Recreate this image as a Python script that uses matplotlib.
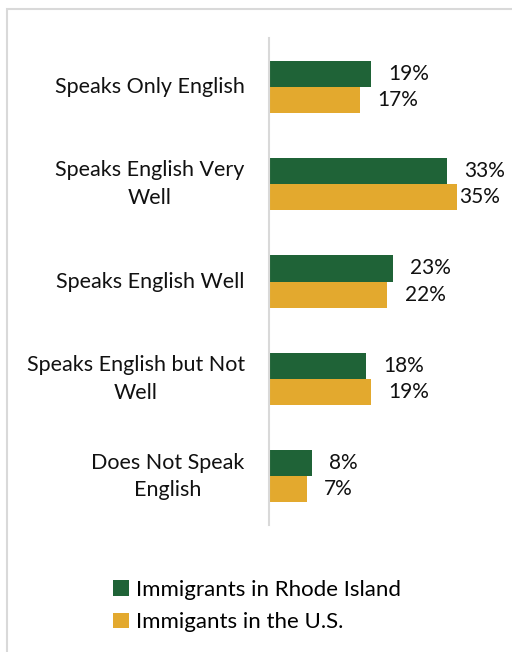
import matplotlib
matplotlib.use('Agg')
import matplotlib.pyplot as plt
from matplotlib.patches import Rectangle
import numpy as np

# Data
categories = ['Speaks Only English', 'Speaks English Very\nWell', 'Speaks English Well',
              'Speaks English but Not\nWell', 'Does Not Speak\nEnglish']
rhode_island = [19, 33, 23, 18, 8]
united_states = [17, 35, 22, 19, 7]
series_names = ['Immigrants in Rhode Island', 'Immigants in the U.S.']

green = '#1f6337'
gold = '#e3a92e'

plt.rcParams['font.family'] = ['Lato', 'DejaVu Sans']

fig = plt.figure(figsize=(5.12, 6.52), dpi=100)
ax = fig.add_axes([269/512, 1 - 525/652, (509 - 269)/512, (525 - 38)/652])

y = np.arange(len(categories))
h = 0.267
ax.barh(y - h/2, rhode_island, height=h, color=green, label=series_names[0])
ax.barh(y + h/2, united_states, height=h, color=gold, label=series_names[1])

for i in range(len(categories)) :
    ax.text(rhode_island[i] + 3.2, y[i] - h/2, f'{rhode_island[i]}%', va='center', ha='left', fontsize=15, color='#111111')
    ax.text(min(united_states[i] + 3.2, 35.3), y[i] + h/2, f'{united_states[i]}%', va='center', ha='left', fontsize=15, color='#111111')
    ax.text(-4.5, y[i], categories[i], va='center', ha='right', multialignment='center', fontsize=15.5, color='#111111', linespacing=1.45)

ax.set_xlim(0, (509 - 269)/5.38)
ax.set_ylim(len(categories) - 0.5, -0.5)
for s in ['top', 'right', 'bottom'] :
    ax.spines[s].set_visible(False)
ax.spines['left'].set_color('#d9d9d9')
ax.spines['left'].set_linewidth(1.5)
ax.set_xticks([])
ax.set_yticks([])

handles, labels = ax.get_legend_handles_labels()
fig.legend(handles, labels, loc='upper left', bbox_to_anchor=(93/512, 1 - 560/652), frameon=False,
           fontsize=16, handlelength=0.7, handleheight=0.7, handletextpad=0.35, labelspacing=0.55)

# chart frame
fig.patches.append(Rectangle((7/512, -0.1), 1.2, 1.1 - 9/652, transform=fig.transFigure,
                             fill=False, edgecolor='#d9d9d9', linewidth=1.5))

fig.savefig('out.png', dpi=100)
